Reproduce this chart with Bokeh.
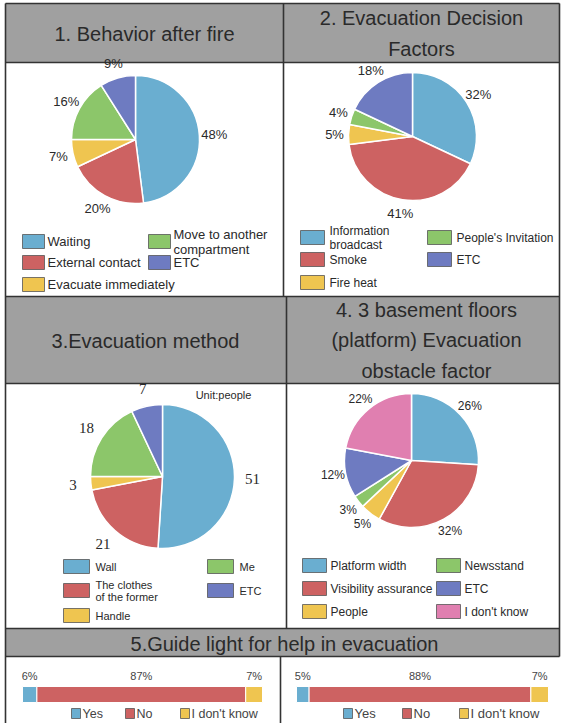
import math
from bokeh.plotting import figure
from bokeh.models import Range1d, ColumnDataSource
from bokeh.embed import file_html
from bokeh.resources import INLINE
from bokeh.core.properties import value

# ---------------- data ----------------
titles = ["1. Behavior after fire", "2. Evacuation Decision\nFactors",
          "3.Evacuation method", "4. 3 basement floors\n(platform) Evacuation\nobstacle factor",
          "5.Guide light for help in evacuation"]

behavior_labels = ["Waiting", "External contact", "Evacuate immediately",
                   "Move to another\ncompartment", "ETC"]
behavior_values = [48, 20, 7, 16, 9]

decision_labels = ["Information\nbroadcast", "Smoke", "Fire heat", "People's Invitation", "ETC"]
decision_values = [32, 41, 5, 4, 18]

method_labels = ["Wall", "The clothes\nof the former", "Handle", "Me", "ETC"]
method_values = [51, 21, 3, 18, 7]
method_unit = "Unit:people"

obstacle_labels = ["Platform width", "Visibility assurance", "People",
                   "Newsstand", "ETC", "I don't know"]
obstacle_values = [26, 32, 5, 3, 12, 22]

guide_labels = ["Yes", "No", "I don't know"]
guide_values_1 = [6, 87, 7]
guide_values_2 = [5, 88, 7]

# ---------------- style ----------------
W, H = 561, 723
BLUE, RED, YEL, GRN, PUR, PINK = "#6aaed0", "#cd6262", "#efc550", "#8cc66a", "#6e7bc1", "#e07fb0"
GRAY = "#a0a0a0"
LINE = "#333333"
TXT = "#2a2a2a"
SANS = "Liberation Sans"
SERIF = "Liberation Serif"


def Y(y):
    return H - y


p = figure(width=W, height=H, x_range=Range1d(0, W), y_range=Range1d(0, H),
           output_backend="svg", toolbar_location=None, min_border=0,
           x_axis_location=None, y_axis_location=None)
p.grid.visible = False
p.outline_line_color = None
p.background_fill_color = "white"

# ---------------- table cells ----------------
hdr = dict(left=[5, 5, 5], right=[559, 559, 559], top=[Y(3), Y(296), Y(628)], bottom=[Y(62), Y(383), Y(656)])
p.quad(**hdr, fill_color=GRAY, line_color=None)

hx0 = [5, 5, 5, 5, 5, 5]
hx1 = [559, 559, 559, 559, 559, 559]
hy = [3, 62, 296, 383, 628, 656]
p.segment(x0=hx0, x1=hx1, y0=[Y(v) for v in hy], y1=[Y(v) for v in hy], line_color=LINE, line_width=1.6)
vx = [5, 559, 283, 286, 280]
vy0 = [3, 3, 3, 296, 656]
vy1 = [723, 656, 296, 628, 723]
p.segment(x0=vx, x1=vx, y0=[Y(v) for v in vy0], y1=[Y(v) for v in vy1], line_color=LINE, line_width=1.6)

# header texts
p.text(x=[144, 421, 145, 426, 284], y=[Y(33), Y(33), Y(340), Y(340), Y(643)], text=titles,
       text_font=value(SANS), text_font_size="20px", text_color=TXT,
       text_align="center", text_baseline="middle", text_line_height=1.4)


# ---------------- pies ----------------
def pie(cx, cy, r, values, colors, label_r, labels, font, size):
    total = float(sum(values))
    cum = 0.0
    st, en, lx, ly = [], [], [], []
    for v in values:
        a0 = cum / total
        a1 = (cum + v) / total
        st.append(math.pi / 2 - 2 * math.pi * a0)
        en.append(math.pi / 2 - 2 * math.pi * a1)
        mid = 2 * math.pi * (a0 + a1) / 2
        lx.append(cx + label_r * math.sin(mid))
        ly.append(Y(cy) + label_r * math.cos(mid))
        cum += v
    p.wedge(x=cx, y=Y(cy), radius=r, start_angle=st, end_angle=en, direction="clock",
            fill_color=colors, line_color="white", line_width=1.5)
    p.text(x=lx, y=ly, text=labels, text_font=value(font), text_font_size=size,
           text_color=TXT, text_align="center", text_baseline="middle")


def legend(labels, colors, colx, rows, sw, sh, toff, size):
    xs, ys, tx, ty = [], [], [], []
    n = len(rows)
    for i, lab in enumerate(labels):
        c, rr = divmod(i, n)
        xs.append(colx[c])
        ys.append(rows[rr])
        tx.append(colx[c] + toff)
        ty.append(Y(rows[rr]))
    p.quad(left=xs, right=[x + sw for x in xs], top=[Y(y - sh / 2) for y in ys],
           bottom=[Y(y + sh / 2) for y in ys], fill_color=colors, line_color="#555555", line_width=0.8)
    p.text(x=tx, y=ty, text=labels, text_font=value(SANS), text_font_size=size, text_color=TXT,
           text_align="left", text_baseline="middle", text_line_height=1.0)


c1 = [BLUE, RED, YEL, GRN, PUR]
pie(135, 139, 64, behavior_values, c1, 79, [f"{v}%" for v in behavior_values], SANS, "13px")
legend(behavior_labels, c1, [22, 148], [241, 262, 284], 22, 14, 25, "13px")

pie(412, 136, 64, decision_values, c1, 78, [f"{v}%" for v in decision_values], SANS, "13px")
legend(decision_labels, c1, [300, 427], [237, 259, 282], 24, 14, 29, "12px")

pie(162, 476, 72, method_values, c1, 90, [str(v) for v in method_values], SERIF, "15px")
p.text(x=[223], y=[Y(394)], text=[method_unit], text_font=value(SANS), text_font_size="11px",
       text_color=TXT, text_align="center", text_baseline="middle")
legend(method_labels, c1, [63, 207], [566, 590, 615], 26, 14, 32, "11px")

c4 = [BLUE, RED, YEL, GRN, PUR, PINK]
pie(411, 460, 67, obstacle_values, c4, 80, [f"{v}%" for v in obstacle_values], SANS, "12px")
legend(obstacle_labels, c4, [302, 436], [565, 588, 611], 24, 14, 28, "12px")


# ---------------- stacked bars ----------------
def stacked(x0, width, yc, h, vals, colors, ylab, lx, ly, lsize):
    total = float(sum(vals))
    lefts, rights, mids = [], [], []
    cur = x0
    for v in vals:
        w = width * v / total
        lefts.append(cur)
        rights.append(cur + w)
        mids.append(cur + w / 2)
        cur += w
    p.hbar(y=Y(yc), left=lefts, right=rights, height=h, fill_color=colors,
           line_color="white", line_width=1)
    p.text(x=mids, y=Y(ylab), text=[f"{v}%" for v in vals], text_font=value(SANS),
           text_font_size="11px", text_color="#444444", text_align="center", text_baseline="middle")
    p.quad(left=lx, right=[x + 9 for x in lx], top=Y(ly - 5), bottom=Y(ly + 5),
           fill_color=colors, line_color="#555555", line_width=0.8)
    p.text(x=[x + 11 for x in lx], y=Y(ly), text=guide_labels, text_font=value(SANS),
           text_font_size=lsize, text_color="#444444", text_align="left", text_baseline="middle")


c5 = [BLUE, RED, YEL]
stacked(22, 240, 694, 16, guide_values_1, c5, 675, [71, 125, 180], 713, "12.5px")
stacked(296, 252, 694, 16, guide_values_2, c5, 675, [343, 402, 459], 713, "13px")

open("out.html", "w").write(file_html(p, INLINE))
